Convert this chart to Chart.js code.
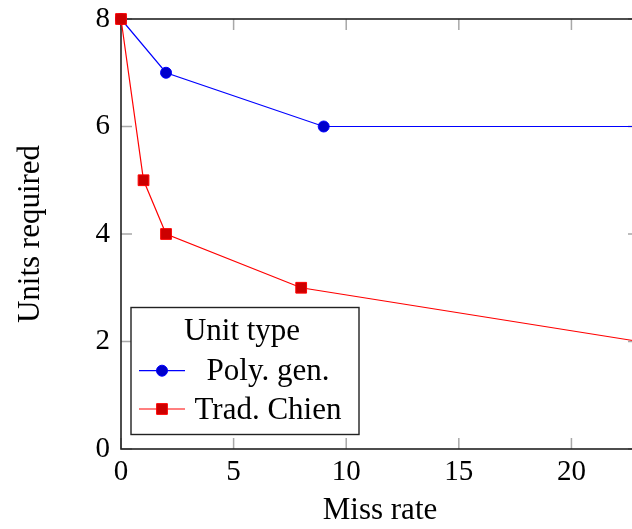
<!DOCTYPE html>
<html><head><meta charset="utf-8">
<script src="https://cdn.jsdelivr.net/npm/chart.js@4"></script>
<style>
html,body{margin:0;padding:0;overflow:hidden;background:#fff;width:632px;height:529px}
#wrap{position:absolute;left:0;top:0;width:660px;height:529px}
</style></head>
<body><div id="wrap"><canvas id="c"></canvas></div>
<script>
const xTitle = 'Miss rate';
const yTitle = 'Units required';
const legendTitle = 'Unit type';
const seriesNames = ['Poly. gen.', 'Trad. Chien'];
const polyX = [0, 2, 9, 23];
const polyY = [8, 7, 6, 6];
const tradX = [0, 1, 2, 8, 23];
const tradY = [8, 5, 4, 3, 2];
const xTicks = [0, 5, 10, 15, 20];
const yTicks = [0, 2, 4, 6, 8];
const xMin = 0, xMax = 23, yMin = 0, yMax = 8;

const FONT = '"Liberation Serif", "DejaVu Serif", serif';
const pts = (xs, ys) => xs.map((x, i) => ({x: x, y: ys[i]}));

const framePlugin = {
  id: 'frame',
  beforeDatasetsDraw(chart) {
    const {ctx, chartArea: a, scales: {x, y}} = chart;
    const tl = 11;
    ctx.save();
    ctx.strokeStyle = '#a8a8a8';
    ctx.lineWidth = 1.5;
    ctx.beginPath();
    xTicks.forEach(v => {
      const px = x.getPixelForValue(v);
      ctx.moveTo(px, a.bottom); ctx.lineTo(px, a.bottom - tl);
      ctx.moveTo(px, a.top); ctx.lineTo(px, a.top + tl);
    });
    yTicks.forEach(v => {
      const py = y.getPixelForValue(v);
      ctx.moveTo(a.left, py); ctx.lineTo(a.left + tl, py);
      ctx.moveTo(a.right, py); ctx.lineTo(a.right - tl, py);
    });
    ctx.stroke();
    ctx.strokeStyle = '#222';
    ctx.lineWidth = 1.6;
    ctx.strokeRect(a.left, a.top, a.right - a.left, a.bottom - a.top);
    ctx.restore();
  }
};

const legendPlugin = {
  id: 'boxLegend',
  afterDraw(chart) {
    const {ctx} = chart;
    const bx = 131, by = 307.5, bw = 228, bh = 127;
    ctx.save();
    ctx.fillStyle = '#fff';
    ctx.fillRect(bx, by, bw, bh);
    ctx.strokeStyle = '#222';
    ctx.lineWidth = 1.4;
    ctx.strokeRect(bx, by, bw, bh);
    ctx.fillStyle = '#000';
    ctx.font = '31px ' + FONT;
    ctx.textAlign = 'center';
    ctx.textBaseline = 'alphabetic';
    ctx.fillText(legendTitle, 242, 340);
    const rows = [370.7, 409];
    chart.data.datasets.forEach((ds, i) => {
      const yy = rows[i];
      ctx.strokeStyle = ds.borderColor;
      ctx.lineWidth = ds.borderWidth;
      ctx.beginPath(); ctx.moveTo(139, yy); ctx.lineTo(185, yy); ctx.stroke();
      ctx.fillStyle = ds.pointBackgroundColor;
      ctx.strokeStyle = ds.pointBorderColor;
      ctx.lineWidth = ds.pointBorderWidth;
      ctx.beginPath();
      if (ds.pointStyle === 'circle') {
        ctx.arc(162, yy, ds.pointRadius, 0, Math.PI * 2);
      } else {
        const s = Math.SQRT1_2 * ds.pointRadius;
        ctx.rect(162 - s, yy - s, 2 * s, 2 * s);
      }
      ctx.fill(); ctx.stroke();
      ctx.fillStyle = '#000';
      ctx.textAlign = 'center';
      ctx.fillText(ds.label, 268, yy + 9.5);
    });
    ctx.restore();
  }
};

new Chart(document.getElementById('c'), {
  type: 'line',
  data: {
    datasets: [
      {
        label: seriesNames[0], data: pts(polyX, polyY),
        borderColor: '#0000ff', borderWidth: 1.2,
        pointStyle: 'circle', pointRadius: 5.5, pointHoverRadius: 5.5,
        pointBackgroundColor: '#0000cc', pointBorderColor: '#0000ff', pointBorderWidth: 1,
        tension: 0, clip: false, order: 2
      },
      {
        label: seriesNames[1], data: pts(tradX, tradY),
        borderColor: '#ff0000', borderWidth: 1.2,
        pointStyle: 'rect', pointRadius: 7.6, pointHoverRadius: 7.6,
        pointBackgroundColor: '#cc0000', pointBorderColor: '#ff0000', pointBorderWidth: 1,
        tension: 0, clip: false, order: 1
      }
    ]
  },
  options: {
    responsive: true, maintainAspectRatio: false, animation: false, devicePixelRatio: 1,
    layout: {padding: {left: 0, top: 19, right: 21, bottom: 0}},
    plugins: {legend: {display: false}, tooltip: {enabled: false}},
    events: [],
    scales: {
      x: {
        type: 'linear', min: xMin, max: xMax,
        afterBuildTicks: s => { s.ticks = xTicks.map(v => ({value: v})); },
        afterFit: s => { s.height = 80; s.paddingLeft = 0; s.paddingRight = 0; },
        grid: {display: false, drawTicks: false},
        border: {display: false},
        ticks: {padding: 6, color: '#000', font: {family: FONT, size: 29}, maxRotation: 0, autoSkip: false},
        title: {display: true, text: xTitle, color: '#000', font: {family: FONT, size: 31, lineHeight: 1.2}, padding: {top: 0, bottom: 0}}
      },
      y: {
        type: 'linear', min: yMin, max: yMax,
        afterBuildTicks: s => { s.ticks = yTicks.map(v => ({value: v})); },
        afterFit: s => { s.width = 121; s.paddingTop = 0; s.paddingBottom = 0; },
        grid: {display: false, drawTicks: false},
        border: {display: false},
        ticks: {padding: 11, color: '#000', font: {family: FONT, size: 29}, autoSkip: false},
        title: {display: true, text: yTitle, color: '#000', font: {family: FONT, size: 31, lineHeight: 1.2}, padding: {top: 12, bottom: 0}}
      }
    }
  },
  plugins: [framePlugin, legendPlugin]
});
</script>
</body></html>
